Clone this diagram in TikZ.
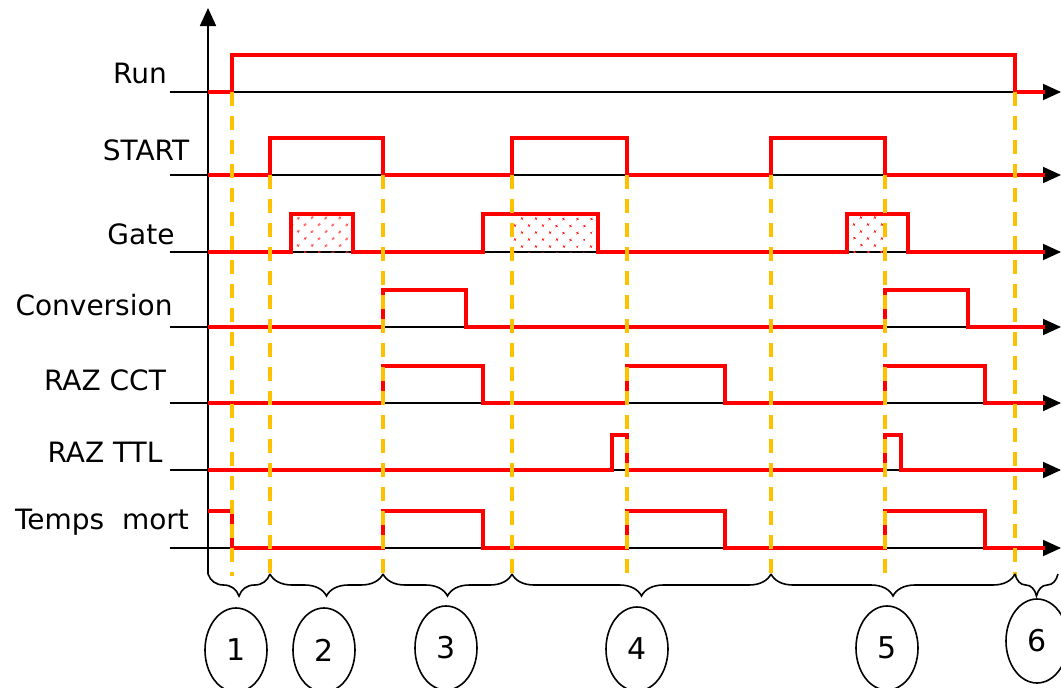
\documentclass[tikz,border=0pt]{standalone}
\usepackage{fontspec}
\setmainfont{DejaVu Sans}
\usetikzlibrary{arrows.meta,shapes.geometric,patterns.meta,decorations.pathreplacing}
\definecolor{sigred}{RGB}{255,0,0}
\definecolor{markyellow}{RGB}{255,192,0}
\begin{document}
\begin{tikzpicture}[x=1pt,y=-1pt,%
% common options for the signal names:
signame/.style = {rectangle, inner sep=0, font=\fontsize{28}{32}\selectfont},
% common options for the numbered phases:
phase/.style = {ellipse, draw, line width=1.6pt, minimum width=62pt,
            minimum height=84pt, inner sep=0, font=\fontsize{30}{34}\selectfont},
% common options for the lines:
sig/.style = {draw=sigred, line width=3.6pt, line join=miter},
axisline/.style = {draw=black, line width=1.8pt},
eventmark/.style = {draw=markyellow, line width=3.4pt, dash pattern=on 14pt off 10pt},
dotfill/.style = {pattern={Dots[distance=10.5pt, angle=45, radius=1.5pt]}, pattern color=sigred!85},
phasebrace/.style = {draw, line width=1.6pt, decorate,
            decoration={brace, mirror, amplitude=22pt}}]
\useasboundingbox (0,0) rectangle (1061,688);
% signal names
\node[signame] (Lrun) at (140,73) {Run};
\node[signame] (Lstart) at (146,150) {START};
\node[signame] (Lgate) at (141,234) {Gate};
\node[signame] (Lconv) at (94,305) {Conversion};
\node[signame] (Lcct) at (105,380) {RAZ CCT};
\node[signame] (Lttl) at (105,452) {RAZ TTL};
\node[signame] (Ltm) at (102,522) {Temps\ \ mort};
% time axis and base lines
\draw[axisline,-{Triangle[length=18pt,width=16pt]}] (208,574) -- (208,8);
\foreach \y in {92,175,252,327,403,470,548}
  \draw[axisline,-{Triangle[length=18pt,width=16pt]}] (170,\y) -- (1061,\y);
% dotted parts of the gate
\fill[dotfill] (291,214) rectangle (353,252);
\fill[dotfill] (512,214) rectangle (598,252);
\fill[dotfill] (847,214) rectangle (885,252);
% signals
\draw[sig] (208,92) -- (232,92) -- (232,55) -- (1015,55) -- (1015,92) -- (1045,92);
\draw[sig] (208,175) -- (270,175) -- (270,138) -- (383,138) -- (383,175)
  -- (512,175) -- (512,138) -- (627,138) -- (627,175)
  -- (771,175) -- (771,138) -- (885,138) -- (885,175) -- (1045,175);
\draw[sig] (208,252) -- (291,252) -- (291,214) -- (353,214) -- (353,252)
  -- (483,252) -- (483,214) -- (598,214) -- (598,252)
  -- (847,252) -- (847,214) -- (908,214) -- (908,252) -- (1045,252);
\draw[sig] (208,327) -- (383,327) -- (383,290) -- (466,290) -- (466,327)
  -- (885,327) -- (885,290) -- (968,290) -- (968,327) -- (1045,327);
\draw[sig] (208,403) -- (383,403) -- (383,366) -- (483,366) -- (483,403)
  -- (627,403) -- (627,366) -- (725,366) -- (725,403)
  -- (885,403) -- (885,366) -- (985,366) -- (985,403) -- (1045,403);
\draw[sig] (208,470) -- (612,470) -- (612,435) -- (627,435) -- (627,470)
  -- (885,470) -- (885,435) -- (901,435) -- (901,470) -- (1045,470);
\draw[sig] (208,511) -- (232,511) -- (232,548) -- (383,548) -- (383,511)
  -- (483,511) -- (483,548) -- (627,548) -- (627,511) -- (725,511) -- (725,548)
  -- (885,548) -- (885,511) -- (985,511) -- (985,548) -- (1045,548);
% event marks
\draw[eventmark] (232,92) -- (232,576);
\draw[eventmark] (1015,92) -- (1015,576);
\foreach \x in {270,383,512,627,771,885}
  \draw[eventmark] (\x,175) -- (\x,576);
% phases
\draw[phasebrace] (208,574) -- (270,574);
\draw[phasebrace] (270,574) -- (383,574);
\draw[phasebrace] (383,574) -- (512,574);
\draw[phasebrace] (512,574) -- (771,574);
\draw[phasebrace] (771,574) -- (1015,574);
\draw[phasebrace] (1015,574) -- (1058,574);
\node[phase] (P1) at (236,650) {1};
\node[phase] (P2) at (324,650) {2};
\node[phase] (P3) at (446,648) {3};
\node[phase] (P4) at (637,649) {4};
\node[phase] (P5) at (887,648) {5};
\node[phase] (P6) at (1037,641) {6};
\end{tikzpicture}
\end{document}
